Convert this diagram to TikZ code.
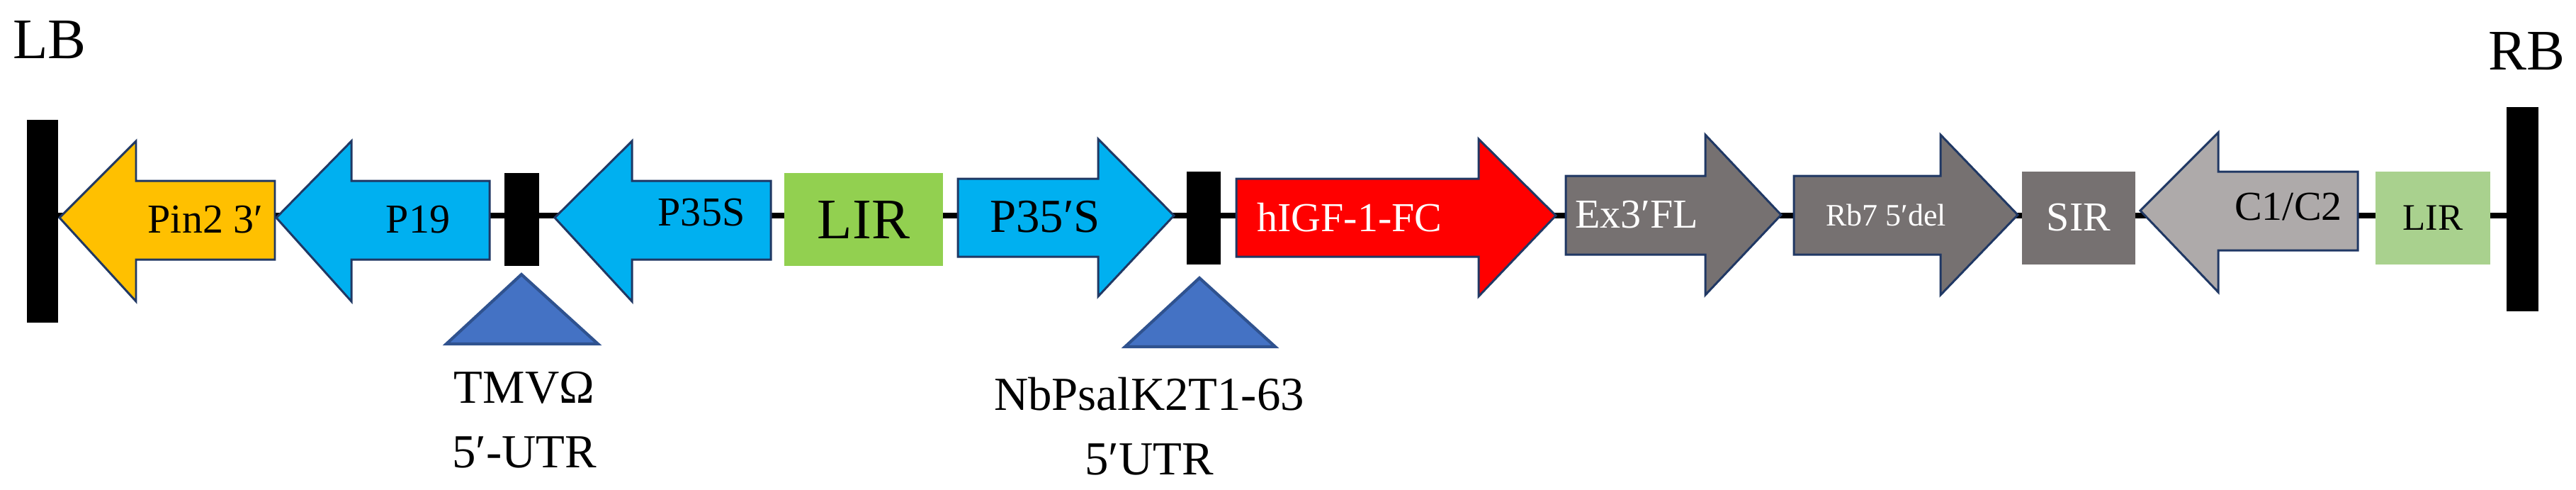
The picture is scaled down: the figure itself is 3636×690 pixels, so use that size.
\documentclass[tikz,border=0pt]{standalone}
\usepackage{fontspec}
\setmainfont{Liberation Serif}
\definecolor{cgold}{HTML}{FFC000}
\definecolor{cblue}{HTML}{00B0F0}
\definecolor{cgreen}{HTML}{92D050}
\definecolor{clgreen}{HTML}{A9D18E}
\definecolor{cgrey}{HTML}{767171}
\definecolor{clgrey}{HTML}{AEAAAA}
\definecolor{ctri}{HTML}{4472C4}
\definecolor{ctrid}{HTML}{2F528F}
\definecolor{cnavy}{HTML}{203864}
\tikzset{
  gene/.style={draw=cnavy, line width=0.85pt, line join=miter},
  bar/.style={fill=black},
  tri/.style={fill=ctri, draw=ctrid, line width=1.2pt},
  lbl/.style={font=\fontsize{19}{22}\selectfont, align=center, inner sep=0pt},
  intext/.style={inner sep=0pt},
  backbone/.style={line width=2.3pt}
}
\begin{document}
\begin{tikzpicture}[x=0.01cm,y=-0.01cm]
\useasboundingbox (0,0) rectangle (3636,690);
% end bars as nodes
\fill[bar] (38,169) rectangle (82,455);
\coordinate (lb) at (82,304);
\fill[bar] (3538,151) rectangle (3583,439);
\coordinate (rb) at (3538,304);
\draw[backbone] (lb) -- (rb);
\node[lbl,font=\fontsize{23}{26}\selectfont] (LBt) at (70,56) {LB};
\node[lbl,font=\fontsize{23}{26}\selectfont] (RBt) at (3566,72) {RB};
% Pin2 3'
\draw[gene,fill=cgold] (84,307) -- (192,199) -- (192,255) -- (388,255) -- (388,366) -- (192,366) -- (192,425) -- cycle;
\node[intext,font=\fontsize{16.5}{18}\selectfont] (pin) at (290,310) {Pin2 3′};
% P19
\draw[gene,fill=cblue] (390,307) -- (496,199) -- (496,255) -- (691,255) -- (691,366) -- (496,366) -- (496,425) -- cycle;
\node[intext,font=\fontsize{16.5}{18}\selectfont] (p19) at (590,310) {P19};
% small bar 1
\fill[bar] (712,244) rectangle (761,375);
\draw[tri] (736,387) -- (844,485) -- (630,485) -- cycle;
\node[lbl] (tmv) at (740,592) {TMVΩ\\[4pt]5′-UTR};
% P35S
\draw[gene,fill=cblue] (783,307) -- (892,199) -- (892,255) -- (1088,255) -- (1088,366) -- (892,366) -- (892,425) -- cycle;
\node[intext,font=\fontsize{16.5}{18}\selectfont] (p35s) at (990,300) {P35S};
% LIR
\fill[cgreen] (1107,244) rectangle (1331,375);
\node[intext,font=\fontsize{23}{26}\selectfont] (lir) at (1219,310) {LIR};
% P35'S
\draw[gene,fill=cblue] (1352,252) -- (1550,252) -- (1550,196) -- (1657,304) -- (1550,418) -- (1550,362) -- (1352,362) -- cycle;
\node[intext,font=\fontsize{19}{22}\selectfont] (p35ps) at (1475,306) {P35′S};
% small bar 2
\fill[bar] (1675,242) rectangle (1723,373);
\draw[tri] (1693,392) -- (1800,489) -- (1588,489) -- cycle;
\node[lbl] (nb) at (1622,601) {NbPsalK2T1-63\\[4pt]5′UTR};
% hIGF-1-FC
\draw[gene,fill=red] (1745,252) -- (2087,252) -- (2087,196) -- (2196,304) -- (2087,418) -- (2087,362) -- (1745,362) -- cycle;
\node[intext,font=\fontsize{16.5}{18}\selectfont,text=white] (higf) at (1905,307) {hIGF-1-FC};
% Ex3'FL
\draw[gene,fill=cgrey] (2210,248) -- (2407,248) -- (2407,190) -- (2514,303) -- (2407,416) -- (2407,359) -- (2210,359) -- cycle;
\node[intext,font=\fontsize{16.5}{18}\selectfont,text=white] (ex) at (2310,303) {Ex3′FL};
% Rb7 5'del
\draw[gene,fill=cgrey] (2532,248) -- (2739,248) -- (2739,190) -- (2848,303) -- (2739,416) -- (2739,359) -- (2532,359) -- cycle;
\node[intext,font=\fontsize{12.5}{14}\selectfont,text=white] (rb7) at (2662,303) {Rb7 5′del};
% SIR
\fill[cgrey] (2854,242) rectangle (3014,373);
\node[intext,font=\fontsize{16.5}{18}\selectfont,text=white] (sir) at (2934,307) {SIR};
% C1/C2
\draw[gene,fill=clgrey] (3021,297) -- (3131,187) -- (3131,242) -- (3328,242) -- (3328,353) -- (3131,353) -- (3131,412) -- cycle;
\node[intext,font=\fontsize{16.5}{18}\selectfont] (c1) at (3230,292) {C1/C2};
% LIR small
\fill[clgreen] (3353,242) rectangle (3515,373);
\node[intext,font=\fontsize{15}{17}\selectfont] (lir2) at (3434,307) {LIR};
\end{tikzpicture}
\end{document}
